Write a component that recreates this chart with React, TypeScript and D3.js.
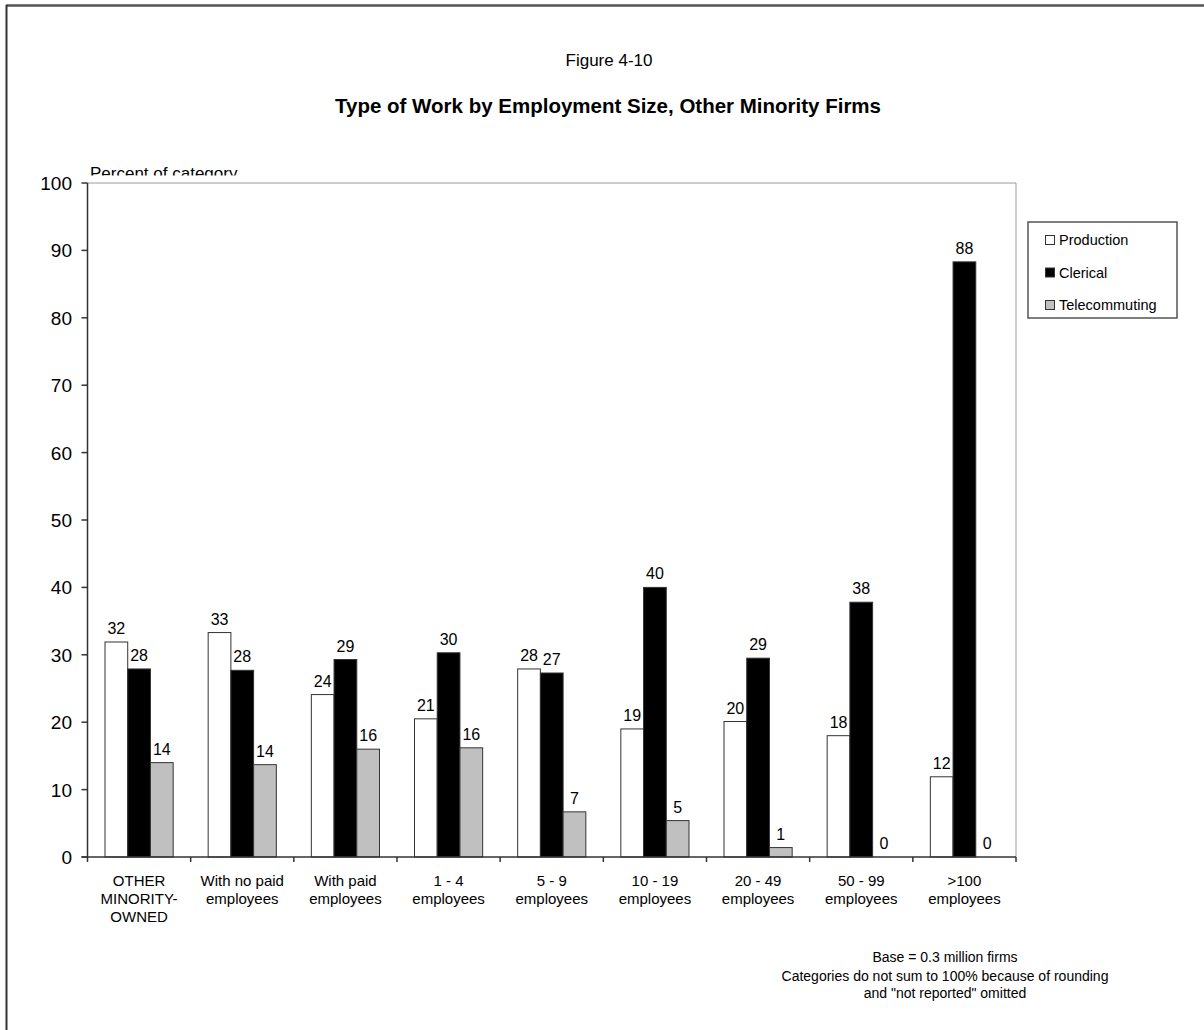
import React from "react";
import * as d3 from "d3";

const categories: string[][] = [
  ["OTHER", "MINORITY-", "OWNED"],
  ["With no paid", "employees"],
  ["With paid", "employees"],
  ["1 - 4", "employees"],
  ["5 - 9", "employees"],
  ["10 - 19", "employees"],
  ["20 - 49", "employees"],
  ["50 - 99", "employees"],
  [">100", "employees"],
];
const seriesNames = ["Production", "Clerical", "Telecommuting"];
const production = [31.9, 33.3, 24.1, 20.5, 27.9, 19.0, 20.1, 18.0, 11.9];
const clerical = [27.9, 27.7, 29.3, 30.3, 27.3, 40.0, 29.5, 37.8, 88.3];
const telecommuting = [14.0, 13.7, 16.0, 16.2, 6.7, 5.4, 1.4, 0, 0];
const labelsProduction = ["32", "33", "24", "21", "28", "19", "20", "18", "12"];
const labelsClerical = ["28", "28", "29", "30", "27", "40", "29", "38", "88"];
const labelsTelecom = ["14", "14", "16", "16", "7", "5", "1", "0", "0"];
const yTicks = [0, 10, 20, 30, 40, 50, 60, 70, 80, 90, 100];
const footnotes = [
  "Base = 0.3 million firms",
  "Categories do not sum to 100% because of rounding",
  "and \"not reported\" omitted",
];

const fills = ["#ffffff", "#000000", "#c0c0c0"];
const FONT = "'Liberation Sans', Arial, sans-serif";

export default function App() {
  const W = 1204, H = 1030;
  const left = 87.5, right = 1016, top = 183, bottom = 857;
  const y = d3.scaleLinear().domain([0, 100]).range([bottom, top]);
  const x0 = d3.scaleBand<number>().domain(d3.range(categories.length)).range([left, right]).paddingInner(0).paddingOuter(0);
  const bw = x0.bandwidth();
  const x1 = d3.scaleBand<number>().domain([0, 1, 2]).range([17.5, bw - 17.5]).padding(0);
  const data = [production, clerical, telecommuting];
  const labels = [labelsProduction, labelsClerical, labelsTelecom];
  const legendBaselines = [245, 277.5, 310];

  return (
    <svg width={W} height={H} style={{ display: "block", position: "absolute", left: 0, top: 0 }} fontFamily={FONT}>
      <defs>
        <clipPath id="pctClip">
          <rect x={0} y={0} width={W} height={175.5} />
        </clipPath>
      </defs>
      <rect x={0} y={0} width={W} height={H} fill="#fff" />
      {/* outer border */}
      <line x1={6} y1={5.5} x2={W} y2={5.5} stroke="#555" strokeWidth={2.5} />
      <line x1={6.5} y1={5} x2={6.5} y2={H} stroke="#333" strokeWidth={2} />

      <text x={609} y={66} textAnchor="middle" fontSize={17}>Figure 4-10</text>
      <text x={608} y={113} textAnchor="middle" fontSize={20.5} fontWeight="bold">Type of Work by Employment Size, Other Minority Firms</text>
      <text x={90} y={179} fontSize={17} clipPath="url(#pctClip)">Percent of category</text>

      {/* plot border top/right */}
      <line x1={left} y1={top} x2={right} y2={top} stroke="#999" strokeWidth={1} />
      <line x1={right} y1={top} x2={right} y2={bottom} stroke="#999" strokeWidth={1} />

      {/* bars */}
      {data.map((vals, s) =>
        vals.map((v, i) => {
          const bx = (x0(i) as number) + (x1(s) as number);
          const by = y(v);
          return (
            <g key={`b${s}-${i}`}>
              {v > 0 && (
                <rect x={bx} y={by} width={x1.bandwidth()} height={bottom - by} fill={fills[s]} stroke="#333" strokeWidth={1} />
              )}
              <text x={bx + x1.bandwidth() / 2} y={by - 8} textAnchor="middle" fontSize={16}>{labels[s][i]}</text>
            </g>
          );
        })
      )}

      {/* y axis */}
      <line x1={left} y1={top} x2={left} y2={bottom} stroke="#333" strokeWidth={1.5} />
      {yTicks.map((t) => (
        <g key={`yt${t}`}>
          <line x1={left - 6} y1={y(t)} x2={left} y2={y(t)} stroke="#333" strokeWidth={1.5} />
          <text x={72} y={y(t) + 7} textAnchor="end" fontSize={19}>{t}</text>
        </g>
      ))}

      {/* x axis */}
      <line x1={left - 6} y1={bottom} x2={right} y2={bottom} stroke="#333" strokeWidth={1.5} />
      {d3.range(categories.length + 1).map((i) => {
        const tx = left + i * bw;
        return <line key={`xt${i}`} x1={tx} y1={bottom} x2={tx} y2={bottom + 5} stroke="#333" strokeWidth={1.5} />;
      })}
      {categories.map((lines, i) => (
        <text key={`xl${i}`} x={(x0(i) as number) + bw / 2} textAnchor="middle" fontSize={15}>
          {lines.map((l, k) => (
            <tspan key={k} x={(x0(i) as number) + bw / 2} y={886 + k * 18}>{l}</tspan>
          ))}
        </text>
      ))}

      {/* legend */}
      <rect x={1028} y={222} width={149} height={96} fill="#fff" stroke="#555" strokeWidth={1.5} />
      {seriesNames.map((n, s) => (
        <g key={`lg${s}`}>
          <rect x={1045.5} y={legendBaselines[s] - 9.5} width={9} height={9} fill={fills[s]} stroke="#333" strokeWidth={1} />
          <text x={1059} y={legendBaselines[s]} fontSize={14.5}>{n}</text>
        </g>
      ))}

      {/* footnote */}
      <text x={945} textAnchor="middle" fontSize={14}>
        {footnotes.map((f, k) => (
          <tspan key={k} x={945} y={[962, 981, 998][k]}>{f}</tspan>
        ))}
      </text>
    </svg>
  );
}
